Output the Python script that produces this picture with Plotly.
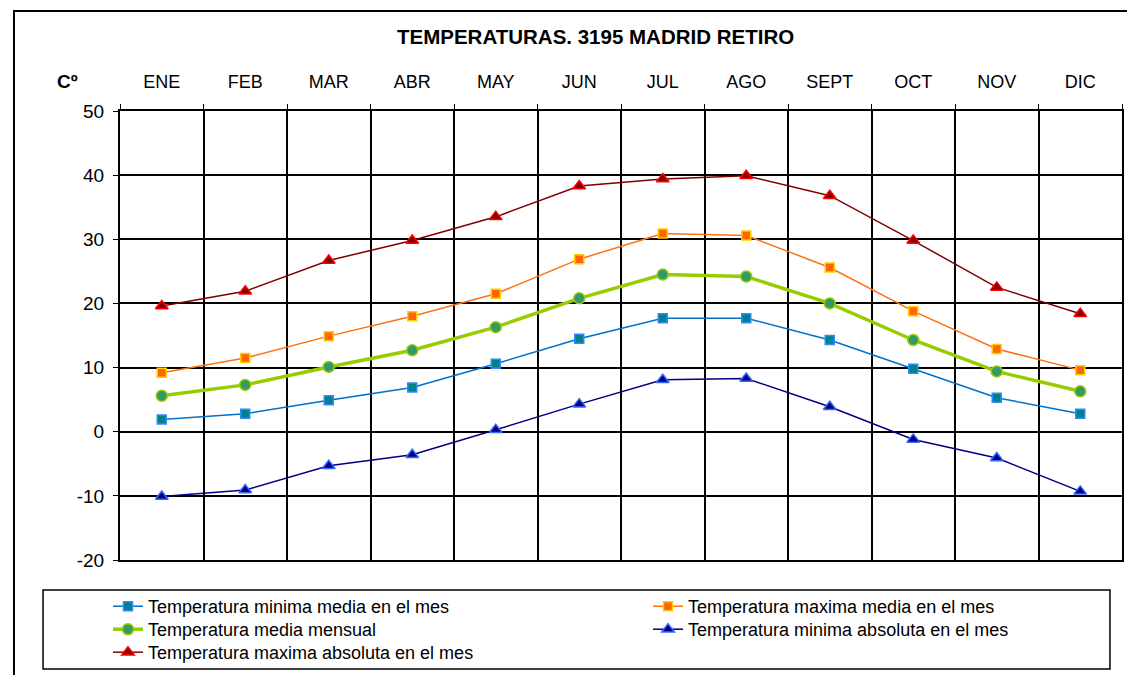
import plotly.graph_objects as go

meses = ["ENE", "FEB", "MAR", "ABR", "MAY", "JUN", "JUL", "AGO", "SEPT", "OCT", "NOV", "DIC"]

min_media = [1.9, 2.8, 4.9, 6.9, 10.6, 14.5, 17.7, 17.7, 14.3, 9.8, 5.3, 2.8]
max_media = [9.2, 11.5, 14.9, 18.0, 21.5, 26.9, 30.9, 30.6, 25.6, 18.8, 12.9, 9.6]
media_mensual = [5.6, 7.3, 10.1, 12.7, 16.3, 20.8, 24.5, 24.2, 20.0, 14.3, 9.4, 6.3]
min_absoluta = [-10.1, -9.1, -5.3, -3.6, 0.3, 4.3, 8.1, 8.3, 3.9, -1.2, -4.1, -9.3]
max_absoluta = [19.6, 21.9, 26.7, 29.8, 33.5, 38.3, 39.4, 39.9, 36.8, 29.8, 22.5, 18.4]

y_ticks = [-20, -10, 0, 10, 20, 30, 40, 50]
y_ticktext = ["-20", "-10", "0", "10", "20", "30", "40", "50"]

fig = go.Figure()

# una leyenda por entrada para colocar las dos columnas y tres filas como en Excel
fig.add_trace(go.Scatter(x=meses, y=min_media, mode="lines+markers", legend="legend",
                         name="Temperatura minima media en el mes",
                         line=dict(color="#0070C8", width=1.5),
                         marker=dict(symbol="square", size=9, color="#00808A",
                                     line=dict(color="#2E8BFF", width=1.5))))
fig.add_trace(go.Scatter(x=meses, y=max_media, mode="lines+markers", legend="legend2",
                         name="Temperatura maxima media en el mes",
                         line=dict(color="#FF7010", width=1.5),
                         marker=dict(symbol="square", size=9, color="#FF6600",
                                     line=dict(color="#FFCC00", width=1.5))))
fig.add_trace(go.Scatter(x=meses, y=media_mensual, mode="lines+markers", legend="legend3",
                         name="Temperatura media mensual",
                         line=dict(color="#99CC00", width=3.5),
                         marker=dict(symbol="circle", size=11, color="#339966",
                                     line=dict(color="#99CC00", width=1.5))))
fig.add_trace(go.Scatter(x=meses, y=min_absoluta, mode="lines+markers", legend="legend4",
                         name="Temperatura minima absoluta en el mes",
                         line=dict(color="#000080", width=1.5),
                         marker=dict(symbol="triangle-up", size=11, color="#000080",
                                     line=dict(color="#3366FF", width=1.5))))
fig.add_trace(go.Scatter(x=meses, y=max_absoluta, mode="lines+markers", legend="legend5",
                         name="Temperatura maxima absoluta en el mes",
                         line=dict(color="#800000", width=1.5),
                         marker=dict(symbol="triangle-up", size=11, color="#800000",
                                     line=dict(color="#FF0000", width=1.5))))

fig.update_xaxes(type="category", side="top", range=[-0.5, 11.5], tickson="boundaries",
                 showgrid=True, gridcolor="black", gridwidth=1.5,
                 ticks="outside", ticklen=5, tickcolor="black", ticklabelstandoff=14,
                 showline=True, linecolor="black", linewidth=2, mirror=True,
                 tickfont=dict(size=18, color="black"))
fig.update_yaxes(range=[-20, 50], tickvals=y_ticks, ticktext=y_ticktext,
                 showgrid=True, gridcolor="black", gridwidth=1.5,
                 zeroline=False, ticks="outside", ticklen=5, tickcolor="black", ticklabelstandoff=5,
                 showline=True, linecolor="black", linewidth=2, mirror=True,
                 tickfont=dict(size=19, color="black"))

leg = dict(orientation="v", yanchor="top", xanchor="left", bgcolor="rgba(0,0,0,0)",
           borderwidth=0, tracegroupgap=0, font=dict(size=18))
col1, col2 = -0.012, 0.527
row1, row2, row3 = -0.0624, -0.1136, -0.1648

fig.update_layout(
    width=1127, height=667,
    margin=dict(l=112, r=13, t=103, b=115, autoexpand=False),
    paper_bgcolor="white", plot_bgcolor="white",
    font=dict(family="Liberation Sans, Arial, sans-serif", color="black"),
    showlegend=True,
    legend=dict(leg, x=col1, y=row1),
    legend2=dict(leg, x=col2, y=row1),
    legend3=dict(leg, x=col1, y=row2),
    legend4=dict(leg, x=col2, y=row2),
    legend5=dict(leg, x=col1, y=row3),
    annotations=[
        dict(text="<b>TEMPERATURAS. 3195 MADRID RETIRO</b>", xref="paper", yref="paper",
             x=0.475, y=1.165, yanchor="middle", showarrow=False, font=dict(size=20.5)),
        dict(text="<b>Cº</b>", xref="paper", yref="paper",
             x=-0.065, y=1.065, yanchor="middle", showarrow=False, font=dict(size=19)),
    ],
    shapes=[
        # marco exterior
        dict(type="rect", xref="paper", yref="paper", x0=-0.1058, x1=1.05, y0=-0.3, y1=1.2227,
             line=dict(color="black", width=2)),
        # marco de la leyenda
        dict(type="rect", xref="paper", yref="paper", x0=-0.0768, x1=0.988, y0=-0.2428, y1=-0.0668,
             line=dict(color="black", width=1.5)),
    ],
)

fig.write_html("out.html")
